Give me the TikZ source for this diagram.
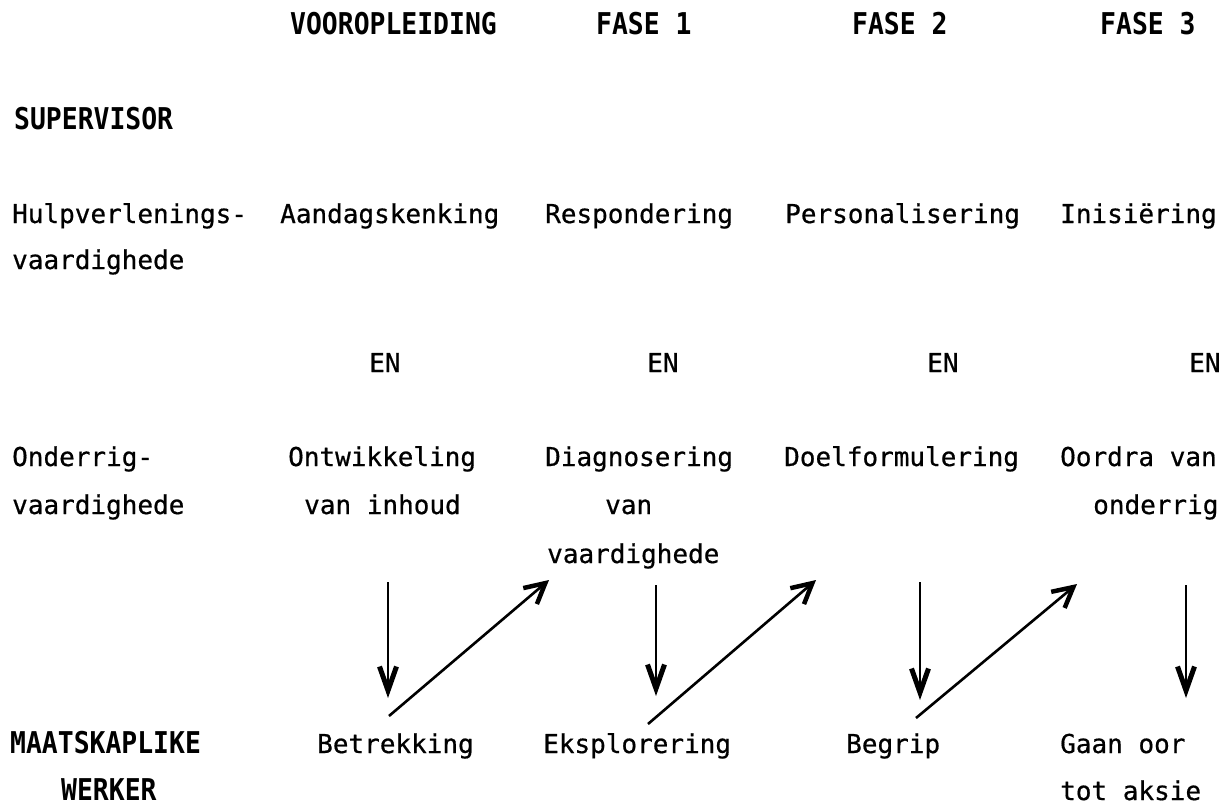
\documentclass[tikz,border=0pt]{standalone}
\usepackage{fontspec}
\newfontfamily\typefont{DejaVu Sans Mono}[FakeBold=0.6]
\newfontfamily\headfont{DejaVu Sans Mono}[FakeStretch=0.88]
\usetikzlibrary{arrows.meta}
\begin{document}
\begin{tikzpicture}[x=1pt,y=-1pt,
  txt/.style={anchor=base west,inner sep=0pt,
    font=\typefont\fontsize{26}{30}\selectfont},
  hd/.style={anchor=base west,inner sep=0pt,
    font=\headfont\bfseries\fontsize{30}{34}\selectfont},
  down/.style={line width=2pt,
    -{Straight Barb[length=24pt,width=17pt,line width=5pt]}},
  up/.style={line width=2.6pt,
    -{Straight Barb[length=20pt,width=21pt,line width=4.5pt]}}]
\useasboundingbox (0,0) rectangle (1222,808);

% column headings
\node[hd] (hvoor) at (290,35) {VOOROPLEIDING};
\node[hd] (hf1) at (596,35) {FASE 1};
\node[hd] (hf2) at (852,35) {FASE 2};
\node[hd] (hf3) at (1100,35) {FASE 3};

\node[hd] (sup) at (14,129) {SUPERVISOR};

% helping skills
\node[txt] (hulp1) at (12,223) {Hulpverlenings-};
\node[txt] (hulp2) at (12,269) {vaardighede};
\node[txt] (aand) at (280,223) {Aandagskenking};
\node[txt] (resp) at (545,223) {Respondering};
\node[txt] (pers) at (785,223) {Personalisering};
\node[txt] (inis) at (1060,223) {Inisiëring};

% EN
\node[txt] (en1) at (369,372) {EN};
\node[txt] (en2) at (647,372) {EN};
\node[txt] (en3) at (927,372) {EN};
\node[txt] (en4) at (1189,372) {EN};

% teaching skills
\node[txt] (ond1) at (12,466) {Onderrig-};
\node[txt] (ond2) at (12,514) {vaardighede};
\node[txt] (ontw1) at (288,466) {Ontwikkeling};
\node[txt] (ontw2) at (304,514) {van inhoud};
\node[txt] (diag1) at (545,466) {Diagnosering};
\node[txt] (diag2) at (605,514) {van};
\node[txt] (diag3) at (547,563) {vaardighede};
\node[txt] (doel) at (784,466) {Doelformulering};
\node[txt] (oord1) at (1060,466) {Oordra van};
\node[txt] (oord2) at (1093,514) {onderrig};

% social worker
\node[hd] (mw1) at (10,753) {MAATSKAPLIKE};
\node[hd] (mw2) at (61,800) {WERKER};
\node[txt] (betr) at (317,753) {Betrekking};
\node[txt] (eksp) at (543,753) {Eksplorering};
\node[txt] (begr) at (846,753) {Begrip};
\node[txt] (gaan1) at (1060,753) {Gaan oor};
\node[txt] (gaan2) at (1060,800) {tot aksie};

% arrow ends
\coordinate (d1a) at (388,582); \coordinate (d1b) at (388,698);
\coordinate (u1a) at (389,716); \coordinate (u1b) at (549,580);
\coordinate (d2a) at (656,585); \coordinate (d2b) at (656,696);
\coordinate (u2a) at (648,724); \coordinate (u2b) at (816,580);
\coordinate (d3a) at (920,582); \coordinate (d3b) at (920,700);
\coordinate (u3a) at (916,718); \coordinate (u3b) at (1077,584);
\coordinate (d4a) at (1186,585); \coordinate (d4b) at (1186,698);

\draw[down] (d1a) -- (d1b);
\draw[up] (u1a) -- (u1b);
\draw[down] (d2a) -- (d2b);
\draw[up] (u2a) -- (u2b);
\draw[down] (d3a) -- (d3b);
\draw[up] (u3a) -- (u3b);
\draw[down] (d4a) -- (d4b);
\end{tikzpicture}
\end{document}
